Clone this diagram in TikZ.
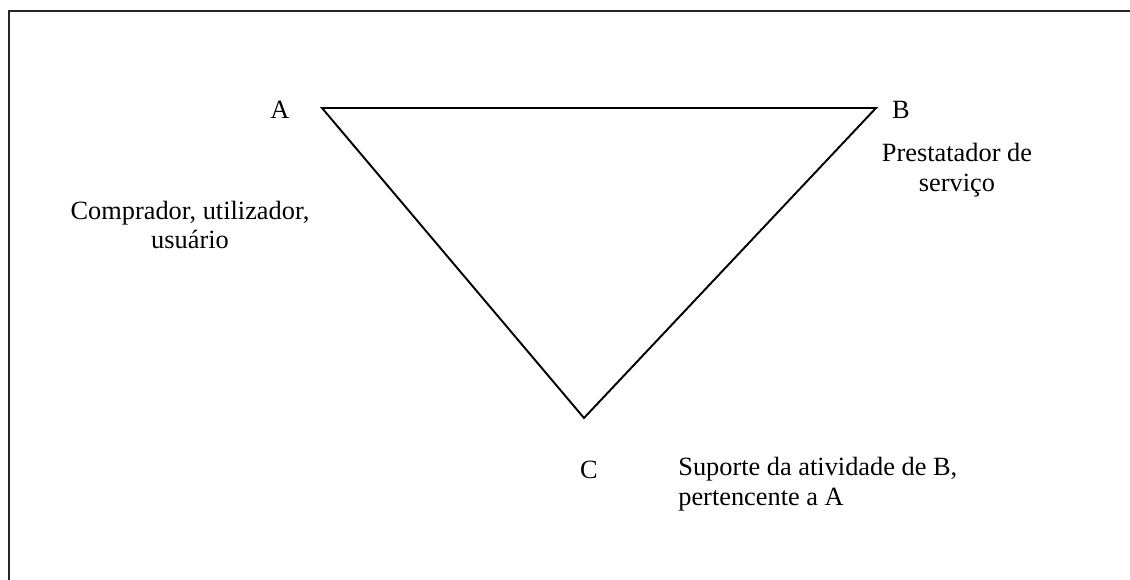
\documentclass[tikz,border=0pt]{standalone}
\usepackage{fontspec}
\setmainfont{Liberation Serif}
\begin{document}
\begin{tikzpicture}[x=0.02cm, y=-0.02cm,
    rotulo/.style={inner sep=0pt, font=\fontsize{15}{17}\selectfont},
    texto/.style={rotulo, align=center}]
    \useasboundingbox (0,0) rectangle (1130,580);
    
    % moldura
    \draw[line width=1.1pt, black!85] (9,580) -- (9,11) -- (1130,11);
    
    % vértices do triângulo
    \coordinate (a) at (322,108);
    \coordinate (b) at (876,108);
    \coordinate (c) at (584,418);
    \draw[line width=1.1pt, line join=miter] (a) -- (b) -- (c) -- cycle;
    
    % letras
    \node[rotulo] (la) at (280,110) {A};
    \node[rotulo] (lb) at (901,110) {B};
    \node[rotulo] (lc) at (589,470) {C};
    
    % papéis
    \node[texto] (comprador) at (190,225) {Comprador, utilizador,\\usuário};
    \node[texto] (prestatador) at (957,170) {Prestatador de\\serviço};
    \node[rotulo, align=left, anchor=west] (suporte) at (678,484) {Suporte da atividade de B,\\pertencente a A};
\end{tikzpicture}
\end{document}
